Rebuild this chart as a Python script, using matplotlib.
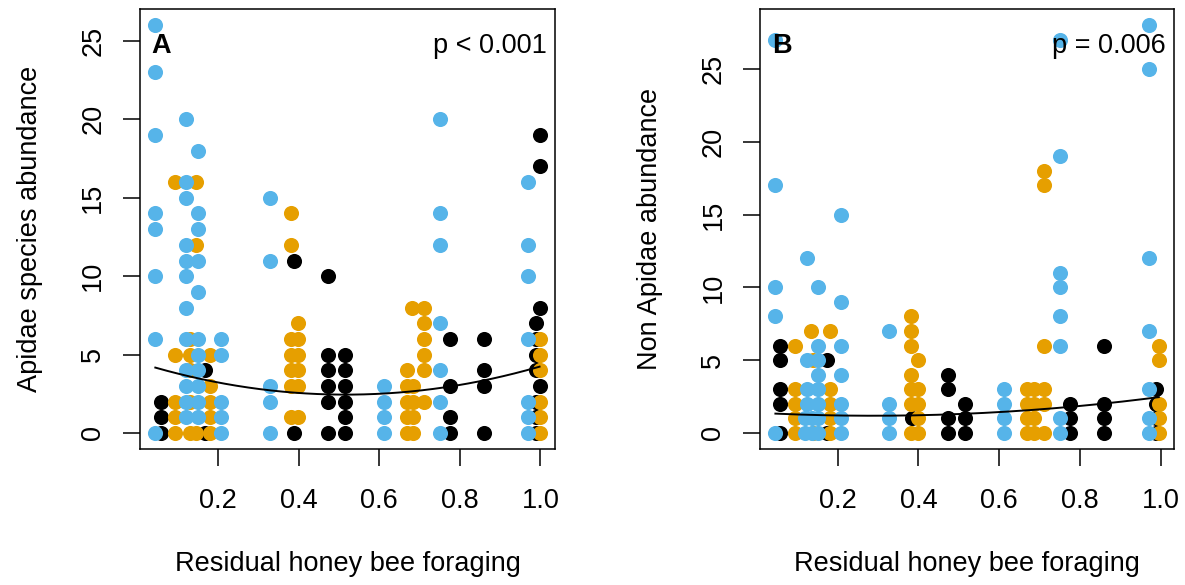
import matplotlib
matplotlib.use("Agg")
import matplotlib.pyplot as plt
import numpy as np

plt.rcParams['font.family'] = ['Liberation Sans', 'DejaVu Sans']

BLUE = "#56B4E9"
ORANGE = "#E69F00"
BLACK = "#000000"

# site x position -> abundance counts, one dict per colour group
apidaeBlack = {0.057: [2, 1, 0], 0.168: [4, 0], 0.389: [11, 0],
               0.473: [10, 5, 4, 3, 2, 0], 0.516: [5, 4, 3, 2, 1, 0],
               0.775: [6, 3, 1, 0], 0.861: [6, 4, 3, 0],
               0.990: [7, 6, 5, 4, 2, 1, 0], 0.998: [19, 17, 8, 3]}
apidaeOrange = {0.094: [16, 5, 2, 1, 0], 0.131: [6, 5, 4, 2, 0], 0.146: [16, 12, 0],
                0.179: [5, 3, 2, 1, 0], 0.381: [14, 12, 6, 5, 4, 3, 1],
                0.399: [7, 6, 5, 4, 3, 1], 0.670: [4, 3, 2, 1, 0], 0.681: [8],
                0.685: [3, 2, 1, 0], 0.710: [8, 7, 6, 5, 4, 2],
                0.998: [6, 5, 4, 2, 1, 0]}
apidaeBlue = {0.044: [26, 23, 19, 14, 13, 10, 6, 0],
              0.121: [20, 16, 15, 12, 11, 10, 8, 6, 4, 3, 2, 1],
              0.151: [18, 14, 13, 11, 9, 6, 5, 4, 3, 2, 1],
              0.206: [6, 5, 2, 1, 0], 0.328: [15, 11, 3, 2, 0],
              0.613: [3, 2, 1, 0], 0.750: [20, 14, 12, 7, 4, 2, 0],
              0.969: [16, 12, 10, 6, 2, 1, 0]}

nonApidaeBlack = {0.057: [6, 5, 3, 2, 0], 0.173: [5, 0], 0.385: [1],
                  0.473: [4, 3, 1, 0], 0.516: [2, 1, 0], 0.776: [2, 1, 0],
                  0.860: [6, 2, 1, 0], 0.989: [3, 2, 1, 0]}
nonApidaeOrange = {0.094: [6, 3, 2, 1, 0], 0.133: [7], 0.138: [5, 0],
                   0.180: [7, 3, 2, 1, 0], 0.381: [8, 7, 6, 4, 3, 2, 0],
                   0.400: [5, 3, 2, 1, 0], 0.670: [3, 2, 1, 0], 0.685: [3, 2, 1, 0],
                   0.712: [18, 17, 6, 3, 2, 0], 0.995: [6, 5, 2, 1, 0]}
nonApidaeBlue = {0.046: [27, 17, 10, 8, 0], 0.119: [1, 0], 0.125: [12, 5, 3, 2],
                 0.136: [1, 0], 0.152: [10, 6, 5, 4, 3, 2, 1, 0],
                 0.208: [15, 9, 6, 4, 2, 1, 0], 0.328: [7, 2, 1, 0],
                 0.612: [3, 2, 1, 0], 0.750: [27, 19, 11, 10, 8, 6, 1, 0],
                 0.970: [28, 25, 12, 7, 3, 1, 0]}

# quadratic fits (intercept, linear, squared) and their x range
apidaeFit = [4.506, -7.970, 7.709]
apidaeFitRange = [0.044, 0.998]
nonApidaeFit = [1.391, -1.450, 2.539]
nonApidaeFitRange = [0.046, 0.995]

panels = [
    ("A", "p < 0.001", "Apidae species abundance",
     [(apidaeBlack, BLACK), (apidaeOrange, ORANGE), (apidaeBlue, BLUE)],
     apidaeFit, apidaeFitRange),
    ("B", "p = 0.006", "Non Apidae abundance",
     [(nonApidaeBlack, BLACK), (nonApidaeOrange, ORANGE), (nonApidaeBlue, BLUE)],
     nonApidaeFit, nonApidaeFitRange),
]

FS = 19.5


def flatten(group):
    xs, ys = [], []
    for x, counts in group.items():
        xs.extend([x] * len(counts))
        ys.extend(counts)
    return np.array(xs), np.array(ys)


fig = plt.figure(figsize=(11.85, 5.85), dpi=100)
rects = [[0.1181, 0.2320, 0.3502, 0.7526], [0.6414, 0.2320, 0.3494, 0.7526]]

for rect, (tag, pText, ylabel, groups, fit, fitRange) in zip(rects, panels):
    ax = fig.add_axes(rect)
    allX, allY = [], []
    for group, colour in groups:
        xs, ys = flatten(group)
        allX.extend(xs)
        allY.extend(ys)
        ax.scatter(xs, ys, s=118, c=colour, linewidths=0, zorder=2)

    xx = np.linspace(fitRange[0], fitRange[1], 200)
    ax.plot(xx, fit[0] + fit[1] * xx + fit[2] * xx ** 2, color="black", lw=1.4, zorder=3)

    # R style 4% padding around the data
    xr = max(allX) - min(allX)
    yr = max(allY) - min(allY)
    ax.set_xlim(min(allX) - 0.04 * xr, max(allX) + 0.04 * xr)
    ax.set_ylim(min(allY) - 0.04 * yr, max(allY) + 0.04 * yr)

    ax.set_xticks([0.2, 0.4, 0.6, 0.8, 1.0])
    ax.set_xticklabels(["0.2", "0.4", "0.6", "0.8", "1.0"])
    yt = [v for v in range(0, 30, 5) if v <= max(allY)]
    ax.set_yticks(yt)
    ax.set_yticklabels([str(v) for v in yt], rotation=90, va="center")
    ax.tick_params(direction="out", length=12.2, width=1.1, labelsize=FS, pad=12)
    ax.tick_params(axis="x", pad=16)
    for sp in ax.spines.values():
        sp.set_linewidth(1.1)

    ax.set_xlabel("Residual honey bee foraging", fontsize=FS, labelpad=26)
    ax.set_ylabel(ylabel, fontsize=FS, labelpad=27)

    ax.annotate(tag, xy=(0, 1), xycoords="axes fraction", xytext=(8.4, -31.7),
                textcoords="offset points", fontsize=FS, fontweight="bold",
                ha="left", va="baseline", zorder=4)
    ax.annotate(pText, xy=(1, 1), xycoords="axes fraction", xytext=(-6, -31.7),
                textcoords="offset points", fontsize=FS,
                ha="right", va="baseline", zorder=4)

fig.savefig("out.png", dpi=100)
